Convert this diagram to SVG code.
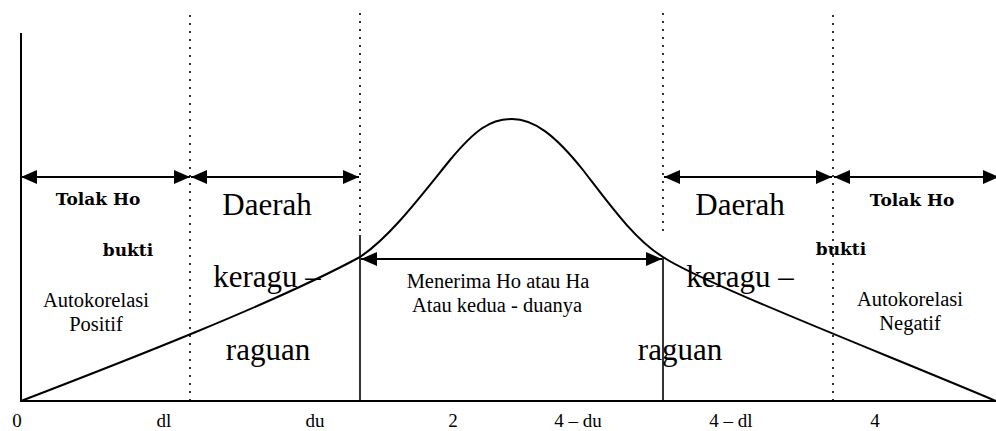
<svg xmlns="http://www.w3.org/2000/svg" width="996" height="431" viewBox="0 0 996 431">
<style>
.ax{stroke:#000;stroke-width:2;fill:none}
.sol{stroke:#000;stroke-width:1.6;fill:none}
.dot{stroke:#000;stroke-width:1.6;stroke-dasharray:2 6;fill:none}
.arr{stroke:#000;stroke-width:1.8;fill:none;marker-start:url(#ah);marker-end:url(#ah)}
.crv{stroke:#000;stroke-width:2;fill:none}
.big{font-family:"Liberation Serif","Times New Roman",serif;font-size:31px;fill:#000}
.med{font-family:"Liberation Serif","Times New Roman",serif;font-size:20.5px;fill:#000}
.sm{font-family:"Liberation Serif","Times New Roman",serif;font-size:19px;fill:#000}
.bd{font-family:"DejaVu Serif",serif;font-weight:bold;font-size:17px;fill:#000}
</style>
<defs>
<marker id="ah" markerUnits="userSpaceOnUse" markerWidth="17" markerHeight="15" refX="16" refY="7" orient="auto-start-reverse" viewBox="0 0 17 15">
<path d="M0,0 L16,7 L0,14 z" fill="#000"/>
</marker>
</defs>
<g id="axes">
<line class="ax" x1="21" y1="33" x2="21" y2="401"/>
<line class="ax" x1="20" y1="401" x2="996" y2="401"/>
</g>
<g id="guides">
<line class="dot" x1="190" y1="15" x2="190" y2="401"/>
<line class="dot" x1="360" y1="13" x2="360" y2="235"/>
<line class="dot" x1="663" y1="13" x2="663" y2="237"/>
<line class="dot" x1="833" y1="15" x2="833" y2="401"/>
<line class="sol" x1="360" y1="235" x2="360" y2="401"/>
<line class="sol" x1="663" y1="257" x2="663" y2="401"/>
</g>
<g id="curve">
<path class="crv" d="M21,401 C120,363 275,303 360,257 C390,237 420,197 450,160 C475,130 490,119 512,119 C534,119 555,135 583,170 C610,205 635,240 663,257 C700,282 880,352 996,401"/>
</g>
<g id="connectors">
<line class="arr" x1="21" y1="177" x2="190" y2="177"/>
<line class="arr" x1="191" y1="177" x2="359" y2="177"/>
<line class="arr" x1="664" y1="177" x2="832" y2="177"/>
<line class="arr" x1="834" y1="177" x2="999" y2="177"/>
<line class="arr" x1="361" y1="259" x2="662" y2="259"/>
</g>
<g id="zone-tolak-left">
<text class="bd" x="98" y="205" text-anchor="middle">Tolak Ho</text>
<text class="bd" x="128" y="256" text-anchor="middle">bukti</text>
<text class="med" x="96" y="307" text-anchor="middle">Autokorelasi</text>
<text class="med" x="96" y="331" text-anchor="middle">Positif</text>
</g>
<g id="zone-ragu-left">
<text class="big" x="267" y="215" text-anchor="middle">Daerah</text>
<text class="big" x="267" y="287" text-anchor="middle">keragu –</text>
<text class="big" x="268" y="360" text-anchor="middle">raguan</text>
</g>
<g id="zone-terima">
<text class="med" x="498" y="288" text-anchor="middle">Menerima Ho atau Ha</text>
<text class="med" x="497" y="312" text-anchor="middle">Atau kedua - duanya</text>
</g>
<g id="zone-ragu-right">
<text class="big" x="740" y="215" text-anchor="middle">Daerah</text>
<text class="big" x="740" y="287" text-anchor="middle">keragu –</text>
<text class="big" x="680" y="360" text-anchor="middle">raguan</text>
</g>
<g id="zone-tolak-right">
<text class="bd" x="912" y="206" text-anchor="middle">Tolak Ho</text>
<text class="bd" x="841" y="255" text-anchor="middle">bukti</text>
<text class="med" x="910" y="306" text-anchor="middle">Autokorelasi</text>
<text class="med" x="910" y="330" text-anchor="middle">Negatif</text>
</g>
<g id="ticks">
<text class="sm" x="17" y="427" text-anchor="middle">0</text>
<text class="sm" x="164" y="427" text-anchor="middle">dl</text>
<text class="sm" x="315" y="427" text-anchor="middle">du</text>
<text class="sm" x="453" y="427" text-anchor="middle">2</text>
<text class="sm" x="578" y="427" text-anchor="middle">4 – du</text>
<text class="sm" x="731" y="427" text-anchor="middle">4 – dl</text>
<text class="sm" x="875" y="427" text-anchor="middle">4</text>
</g>
</svg>
